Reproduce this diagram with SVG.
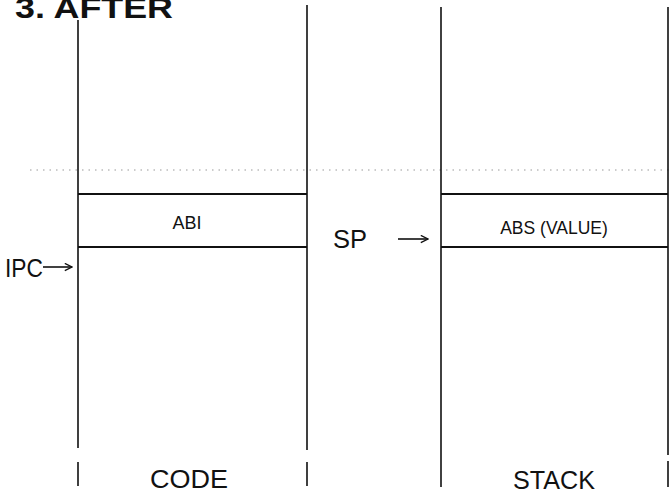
<svg xmlns="http://www.w3.org/2000/svg" width="672" height="494" viewBox="0 0 672 494">
<defs>
<style>
.txt{font-family:"Liberation Sans","DejaVu Sans",sans-serif;fill:#111}
.wall{stroke:#111;stroke-width:1.6;fill:none}
.slot{stroke:#111;stroke-width:2.2;fill:none}
.dots{stroke:#999;stroke-width:1.2;stroke-dasharray:1.5 5;fill:none}
.arr{stroke:#111;stroke-width:1.6;fill:none}
</style>
<marker id="ah" viewBox="0 0 10 10" refX="9" refY="5" markerWidth="9" markerHeight="9" orient="auto" markerUnits="userSpaceOnUse">
<path d="M1,1 L9,5 L1,9" fill="none" stroke="#111" stroke-width="1.5"/>
</marker>
</defs>
<rect width="672" height="494" fill="#fff"/>
<text id="title" class="txt" x="15" y="18" font-size="29" font-weight="bold" textLength="158" lengthAdjust="spacingAndGlyphs">3. AFTER</text>
<line class="dots" x1="30" y1="170" x2="670" y2="170"/>
<g id="code">
<path class="wall" d="M78,20 V448 M78,462 V486"/>
<path class="wall" d="M307,5 V450 M307,462 V486" stroke-width="2"/>
<path class="slot" d="M78,194 H307 M78,247 H307"/>
<text class="txt" x="187" y="229" font-size="18" text-anchor="middle">ABI</text>
<text class="txt" x="189" y="488" font-size="25" text-anchor="middle" textLength="78" lengthAdjust="spacingAndGlyphs">CODE</text>
</g>
<g id="stack">
<path class="wall" d="M441,7 V487" stroke-width="2"/>
<path class="wall" d="M668,7 V455 M668,461 V487"/>
<path class="slot" d="M441,194 H668 M441,247 H668"/>
<text class="txt" x="554" y="234" font-size="17.5" text-anchor="middle">ABS (VALUE)</text>
<text class="txt" x="554" y="489" font-size="25" text-anchor="middle" textLength="82" lengthAdjust="spacingAndGlyphs">STACK</text>
</g>
<g id="ipc">
<text class="txt" x="5" y="277" font-size="25" textLength="38" lengthAdjust="spacingAndGlyphs">IPC</text>
</g>
<g id="sp">
<text class="txt" x="333" y="248" font-size="25" textLength="34" lengthAdjust="spacingAndGlyphs">SP</text>
</g>
<g id="connectors">
<line class="arr" x1="43" y1="267" x2="72" y2="267" marker-end="url(#ah)"/>
<line class="arr" x1="398" y1="239" x2="428" y2="239" marker-end="url(#ah)"/>
</g>
</svg>
